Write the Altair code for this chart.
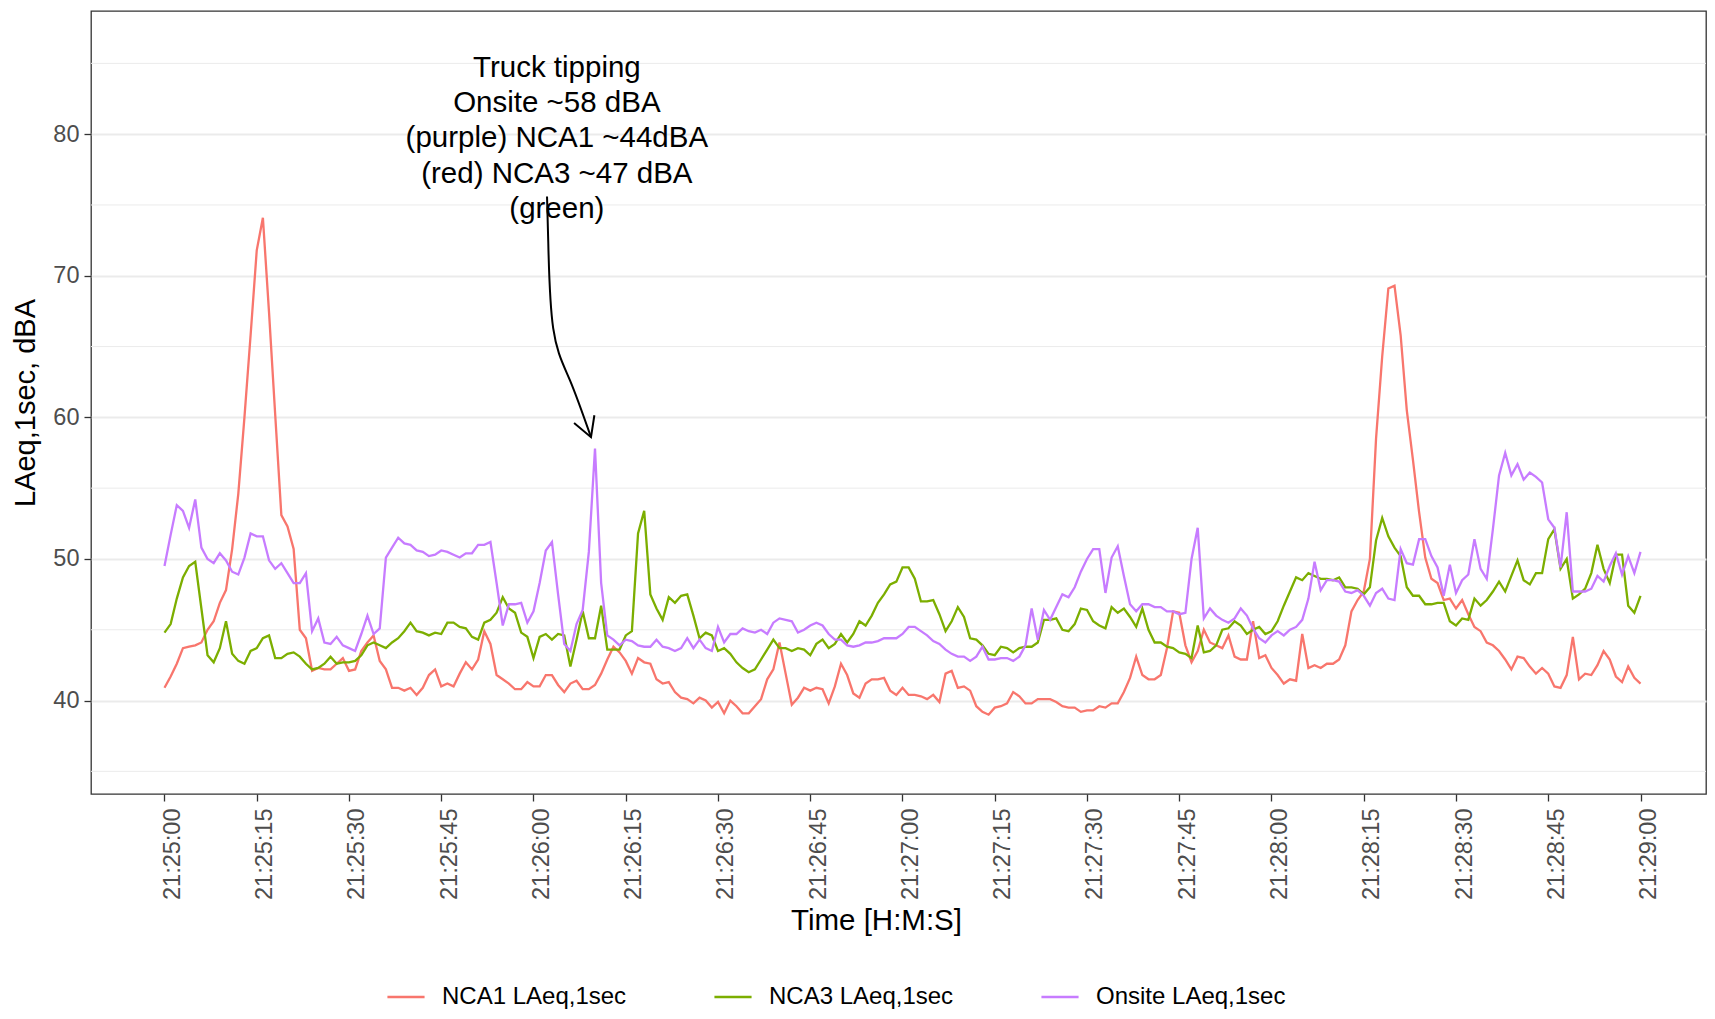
import json
import altair as alt
import pandas as pd

# ---- data ----
seconds = list(range(241))

nca1 = [40.9, 41.7, 42.6, 43.7, 43.8, 43.9, 44.1, 45.0, 45.6, 46.9, 47.8, 50.7, 54.6, 60.0, 65.8, 71.8, 74.1, 67.4, 60.2, 53.1,
        52.3, 50.7, 45.0, 44.4, 42.1, 42.3, 42.2, 42.2, 42.6, 43.0, 42.1, 42.2, 43.5, 44.1, 44.6, 42.8, 42.2, 40.9, 40.9, 40.7,
        40.9, 40.4, 40.9, 41.8, 42.2, 41.0, 41.2, 41.0, 41.9, 42.7, 42.2, 42.9, 44.9, 44.0, 41.8, 41.5, 41.2, 40.8, 40.8, 41.3,
        41.0, 41.0, 41.8, 41.8, 41.1, 40.6, 41.2, 41.4, 40.8, 40.8, 41.1, 41.9, 42.9, 43.8, 43.4, 42.8, 41.9, 43.0, 42.7, 42.6,
        41.5, 41.2, 41.3, 40.6, 40.2, 40.1, 39.8, 40.2, 40.0, 39.5, 39.9, 39.1, 40.0, 39.6, 39.1, 39.1, 39.6, 40.1, 41.5, 42.2,
        44.1, 41.9, 39.7, 40.2, 40.9, 40.7, 40.9, 40.8, 39.8, 41.0, 42.6, 41.8, 40.5, 40.2, 41.2, 41.5, 41.5, 41.6, 40.7, 40.4,
        40.9, 40.4, 40.4, 40.3, 40.1, 40.4, 39.9, 41.9, 42.1, 40.9, 41.0, 40.7, 39.6, 39.2, 39.0, 39.5, 39.6, 39.8, 40.6, 40.3,
        39.8, 39.8, 40.1, 40.1, 40.1, 39.9, 39.6, 39.5, 39.5, 39.2, 39.3, 39.3, 39.6, 39.5, 39.8, 39.8, 40.6, 41.6, 43.1, 41.8,
        41.5, 41.5, 41.8, 43.7, 46.3, 46.2, 43.9, 42.7, 43.5, 45.0, 44.1, 43.9, 43.7, 44.6, 43.1, 42.9, 42.9, 45.6, 43.0, 43.2,
        42.3, 41.8, 41.2, 41.5, 41.4, 44.7, 42.3, 42.5, 42.3, 42.6, 42.6, 42.9, 43.9, 46.3, 47.1, 47.7, 50.0, 58.5, 64.3, 69.1,
        69.3, 65.8, 60.5, 57.0, 53.3, 50.1, 48.6, 48.3, 47.1, 47.2, 46.5, 47.1, 46.1, 45.2, 44.9, 44.1, 43.9, 43.5, 42.9, 42.2,
        43.1, 43.0, 42.4, 41.9, 42.3, 41.9, 41.0, 40.9, 41.8, 44.5, 41.5, 41.9, 41.8, 42.5, 43.5, 42.9, 41.7, 41.3, 42.4, 41.6,
        41.2]

nca3 = [44.8, 45.4, 47.2, 48.7, 49.5, 49.8, 46.5, 43.2, 42.7, 43.7, 45.6, 43.3, 42.8, 42.6, 43.5, 43.7, 44.4, 44.6, 43.0, 43.0,
        43.3, 43.4, 43.1, 42.6, 42.2, 42.3, 42.6, 43.1, 42.6, 42.7, 42.7, 42.8, 43.2, 43.9, 44.1, 43.9, 43.7, 44.1, 44.4, 44.9,
        45.5, 44.9, 44.8, 44.6, 44.8, 44.7, 45.5, 45.5, 45.2, 45.1, 44.5, 44.3, 45.5, 45.7, 46.2, 47.3, 46.5, 46.2, 44.8, 44.5,
        43.0, 44.5, 44.7, 44.3, 44.7, 44.6, 42.4, 44.3, 46.3, 44.4, 44.4, 46.7, 43.6, 43.6, 43.6, 44.6, 44.9, 51.8, 53.4, 47.5,
        46.5, 45.7, 47.3, 46.9, 47.4, 47.5, 46.0, 44.4, 44.8, 44.6, 43.5, 43.7, 43.3, 42.7, 42.3, 42.0, 42.2, 42.9, 43.6, 44.3,
        43.7, 43.7, 43.5, 43.7, 43.6, 43.2, 44.0, 44.3, 43.7, 44.0, 44.7, 44.1, 44.7, 45.6, 45.3, 46.0, 46.9, 47.5, 48.2, 48.4,
        49.4, 49.4, 48.6, 47.0, 47.0, 47.1, 46.1, 44.9, 45.6, 46.6, 45.9, 44.4, 44.3, 43.9, 43.3, 43.2, 43.8, 43.7, 43.4, 43.7,
        43.8, 43.8, 44.1, 45.7, 45.7, 45.8, 45.0, 44.9, 45.4, 46.5, 46.4, 45.6, 45.3, 45.1, 46.6, 46.2, 46.5, 45.9, 45.2, 46.5,
        45.0, 44.1, 44.1, 43.8, 43.7, 43.4, 43.3, 43.0, 45.3, 43.4, 43.5, 43.9, 45.0, 45.1, 45.6, 45.3, 44.7, 45.0, 45.2, 44.7,
        44.9, 45.6, 46.7, 47.7, 48.7, 48.5, 49.0, 48.8, 48.6, 48.6, 48.5, 48.7, 48.0, 48.0, 47.9, 47.5, 48.0, 51.3, 52.9, 51.6,
        50.8, 50.2, 48.0, 47.4, 47.4, 46.8, 46.8, 46.9, 46.9, 45.6, 45.3, 45.8, 45.7, 47.2, 46.7, 47.1, 47.7, 48.4, 47.7, 48.8,
        49.9, 48.5, 48.2, 49.0, 49.0, 51.4, 52.1, 49.3, 50.0, 47.2, 47.5, 47.9, 49.0, 51.0, 49.3, 48.3, 50.3, 50.3, 46.7, 46.2,
        47.4]

onsite = [49.5, 51.7, 53.8, 53.4, 52.2, 54.2, 50.8, 50.0, 49.7, 50.4, 49.9, 49.1, 48.9, 50.1, 51.8, 51.6, 51.6, 49.9, 49.3, 49.7,
          49.0, 48.3, 48.3, 49.0, 44.9, 45.8, 44.1, 44.0, 44.5, 43.9, 43.7, 43.5, 44.7, 46.0, 44.7, 45.1, 50.1, 50.8, 51.5, 51.1,
          51.0, 50.6, 50.5, 50.2, 50.3, 50.6, 50.5, 50.3, 50.1, 50.4, 50.4, 51.0, 51.0, 51.2, 48.3, 45.3, 46.8, 46.8, 46.9, 45.5,
          46.3, 48.3, 50.6, 51.2, 47.5, 44.0, 43.5, 45.4, 46.4, 50.5, 57.8, 48.3, 44.6, 44.3, 43.9, 44.3, 44.2, 43.9, 43.8, 43.8,
          44.3, 43.8, 43.7, 43.5, 43.7, 44.4, 43.7, 44.3, 43.7, 43.5, 45.2, 44.1, 44.7, 44.7, 45.1, 44.9, 44.8, 45.0, 44.7, 45.5,
          45.8, 45.7, 45.6, 44.8, 45.0, 45.3, 45.5, 45.3, 44.7, 44.3, 44.3, 43.9, 43.8, 43.9, 44.1, 44.1, 44.2, 44.4, 44.4, 44.4,
          44.7, 45.2, 45.2, 44.9, 44.6, 44.2, 44.0, 43.6, 43.3, 43.1, 43.1, 42.8, 43.1, 43.8, 42.9, 42.9, 43.0, 43.0, 42.8, 43.1,
          43.9, 46.5, 44.3, 46.4, 45.7, 46.6, 47.5, 47.3, 48.0, 49.1, 50.0, 50.7, 50.7, 47.6, 50.1, 50.9, 48.8, 46.8, 46.3, 46.8,
          46.8, 46.6, 46.6, 46.3, 46.3, 46.1, 46.2, 50.0, 52.2, 45.8, 46.5, 46.0, 45.7, 45.5, 45.8, 46.5, 46.0, 45.1, 44.4, 44.1,
          44.6, 44.9, 44.6, 45.0, 45.2, 45.7, 47.2, 49.8, 47.8, 48.5, 48.5, 48.4, 47.7, 47.6, 47.8, 47.4, 46.7, 47.6, 47.9, 47.2,
          47.1, 50.7, 49.7, 49.6, 51.4, 51.4, 50.2, 49.4, 47.4, 49.6, 47.6, 48.5, 48.9, 51.4, 49.3, 48.6, 52.1, 55.9, 57.5, 55.9,
          56.7, 55.6, 56.1, 55.8, 55.4, 52.8, 52.2, 49.4, 53.3, 47.7, 47.7, 47.7, 47.9, 48.8, 48.4, 49.5, 50.4, 48.9, 50.2, 49.0,
          50.5]

series_names = ["NCA1 LAeq,1sec", "NCA3 LAeq,1sec", "Onsite LAeq,1sec"]
series_colors = ["#F8766D", "#7CAE00", "#C77CFF"]

tick_seconds = list(range(0, 241, 15))
tick_labels = ["21:25:00", "21:25:15", "21:25:30", "21:25:45", "21:26:00", "21:26:15", "21:26:30", "21:26:45",
               "21:27:00", "21:27:15", "21:27:30", "21:27:45", "21:28:00", "21:28:15", "21:28:30", "21:28:45",
               "21:29:00"]
y_major = [40, 50, 60, 70, 80]
y_minor = [35, 45, 55, 65, 75, 85]

annotation_text = "Truck tipping\nOnsite ~58 dBA\n(purple) NCA1 ~44dBA\n(red) NCA3 ~47 dBA\n(green)"
annotation_pos = {"t": 63.8, "v": 84.7}
arrow_curve_t = [62.2, 62.4, 63.2, 65.9, 69.35]
arrow_curve_v = [75.6, 72.4, 66.3, 62.65, 58.6]
arrow_head_t = [69.9, 69.35, 66.6]
arrow_head_v = [60.15, 58.6, 59.6]

# ---- tables ----
rows = []
for name, vals in zip(series_names, [nca1, nca3, onsite]):
    for s, v in zip(seconds, vals):
        rows.append({"sec": s, "value": v, "series": name})
df = pd.DataFrame(rows)

x_scale = alt.Scale(domain=[-11.95, 250.65], nice=False, zero=False)
y_scale = alt.Scale(domain=[33.4, 88.7], nice=False, zero=False)

label_expr = json.dumps(tick_labels) + "[round(datum.value / 15)]"

minor = alt.Chart(pd.DataFrame({"y": y_minor})).mark_rule(color="#EBEBEB", strokeWidth=1).encode(
    y=alt.Y("y:Q", scale=y_scale)
)

lines = alt.Chart(df).mark_line(strokeWidth=2.3).encode(
    x=alt.X("sec:Q", scale=x_scale,
            axis=alt.Axis(values=tick_seconds, labelExpr=label_expr, labelAngle=270, labelAlign="right",
                          labelBaseline="middle", labelOffset=8, title="Time [H:M:S]", grid=False,
                          labelPadding=7, labelFontSize=23.5, titleFontSize=29.5, titlePadding=7,
                          titleX=785, titleAlign="center")),
    y=alt.Y("value:Q", scale=y_scale,
            axis=alt.Axis(values=y_major, title="LAeq,1sec, dBA", grid=True, gridColor="#EBEBEB",
                          gridWidth=2, labelFontSize=23.5, titleFontSize=29, labelPadding=5, titlePadding=12)),
    color=alt.Color("series:N", scale=alt.Scale(domain=series_names, range=series_colors),
                    legend=alt.Legend(title=None, orient="none", direction="horizontal", legendX=295,
                                      legendY=966, symbolType="stroke", symbolStrokeWidth=2.5,
                                      symbolSize=1380, labelFontSize=24, labelOffset=16, labelLimit=0,
                                      columnPadding=82, labelColor="#000000")),
    detail="series:N",
)

ann = alt.Chart(pd.DataFrame({"t": [annotation_pos["t"]], "v": [annotation_pos["v"]],
                              "txt": [annotation_text]})).mark_text(
    fontSize=29.5, lineBreak="\n", lineHeight=35.3, align="center", baseline="middle", color="#000000",
    font="Liberation Sans"
).encode(x=alt.X("t:Q", scale=x_scale), y=alt.Y("v:Q", scale=y_scale), text="txt:N")

curve = alt.Chart(pd.DataFrame({"t": arrow_curve_t, "v": arrow_curve_v, "o": list(range(len(arrow_curve_t)))})
                  ).mark_line(color="#000000", strokeWidth=2, interpolate="natural").encode(
    x=alt.X("t:Q", scale=x_scale), y=alt.Y("v:Q", scale=y_scale), order="o:Q")

head = alt.Chart(pd.DataFrame({"t": arrow_head_t, "v": arrow_head_v, "o": list(range(len(arrow_head_t)))})
                 ).mark_line(color="#000000", strokeWidth=2).encode(
    x=alt.X("t:Q", scale=x_scale), y=alt.Y("v:Q", scale=y_scale), order="o:Q")

chart = alt.layer(minor, lines, curve, head, ann).properties(
    width=1615, height=783,
    autosize=alt.AutoSizeParams(type="none"),
    padding={"left": 83, "top": 3, "right": 1, "bottom": 217},
).configure(font="Liberation Sans").configure_view(
    stroke="#333333", strokeWidth=1.3
).configure_axis(
    domain=False, tickColor="#333333", tickSize=7, tickWidth=1.3,
    labelColor="#4D4D4D", titleColor="#000000", titleFontWeight="normal",
    labelFont="Liberation Sans", titleFont="Liberation Sans"
).configure_legend(labelFont="Liberation Sans")

chart.save("out.html", embed_options={"renderer": "svg", "actions": False})
